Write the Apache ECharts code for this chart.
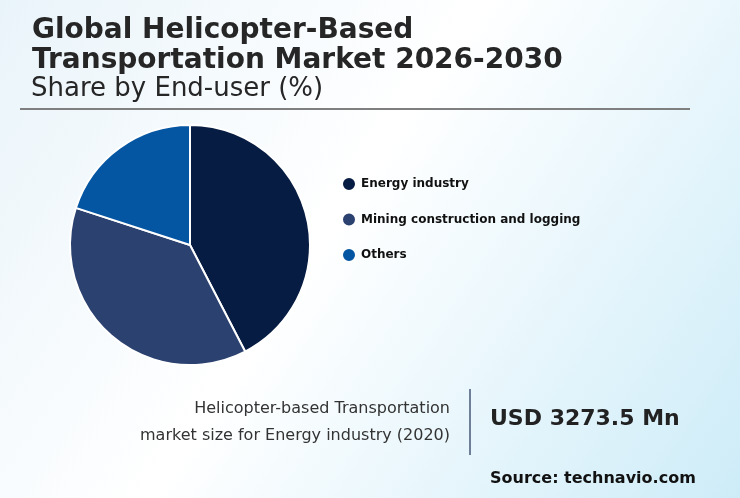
<!DOCTYPE html>
<html>
<head>
<meta charset="utf-8">
<script src="https://cdn.jsdelivr.net/npm/echarts@6/dist/echarts.min.js"></script>
<style>
  html, body { margin: 0; padding: 0; }
  #chart { width: 740px; height: 498px; }
</style>
</head>
<body>
<div id="chart"></div>
<script>
// data
const categories = ['Energy industry', 'Mining construction and logging', 'Others'];
const shares = [42.4, 37.6, 20.0];
const colors = ['#061c42', '#2b4170', '#0455a2'];

const titleLines = ['Global Helicopter-Based', 'Transportation Market 2026-2030'];
const subTitle = 'Share by End-user (%)';
const noteLines = ['Helicopter-based Transportation', 'market size for Energy industry (2020)'];
const marketSize = 'USD 3273.5 Mn';
const source = 'Source: technavio.com';

const chart = echarts.init(document.getElementById('chart'));

const font = 'DejaVu Sans';

const option = {
  backgroundColor: {
    type: 'linear', x: 0, y: 0, x2: 1, y2: 1,
    colorStops: [
      { offset: 0, color: '#e9f4fa' },
      { offset: 0.45, color: '#ffffff' },
      { offset: 1, color: '#cdecf8' }
    ]
  },
  color: colors,
  animation: false,
  legend: {
    orient: 'vertical',
    left: 336,
    top: 171,
    itemGap: 19.5,
    icon: 'circle',
    itemWidth: 14,
    itemHeight: 14,
    textStyle: { fontFamily: font, fontWeight: 'bold', fontSize: 12, color: '#111' },
    data: categories
  },
  series: [{
    type: 'pie',
    center: [190, 245],
    radius: [0, 120],
    startAngle: 90,
    clockwise: true,
    label: { show: false },
    labelLine: { show: false },
    itemStyle: { borderColor: '#ffffff', borderWidth: 2 },
    emphasis: { disabled: true },
    data: categories.map((name, i) => ({ name: name, value: shares[i] }))
  }],
  graphic: [
    { type: 'text', left: 32, top: 17, style: { text: titleLines[0], font: 'bold 28px ' + font, fill: '#262626' } },
    { type: 'text', left: 32, top: 47, style: { text: titleLines[1], font: 'bold 28px ' + font, fill: '#262626' } },
    { type: 'text', left: 31, top: 76, style: { text: subTitle, font: '26px ' + font, fill: '#262626' } },
    { type: 'line', shape: { x1: 20, y1: 109, x2: 690, y2: 109 }, style: { stroke: '#7f7f7f', lineWidth: 2 } },
    { type: 'text', right: 290, top: 401, style: { text: noteLines[0], font: '16px ' + font, fill: '#333333', align: 'right' } },
    { type: 'text', right: 290, top: 428, style: { text: noteLines[1], font: '16px ' + font, fill: '#333333', align: 'right' } },
    { type: 'line', shape: { x1: 470, y1: 389, x2: 470, y2: 455 }, style: { stroke: '#6f7f98', lineWidth: 2 } },
    { type: 'text', left: 490, top: 408, style: { text: marketSize, font: 'bold 22px ' + font, fill: '#222222' } },
    { type: 'text', left: 490, top: 471, style: { text: source, font: 'bold 16px ' + font, fill: '#111111' } }
  ]
};

chart.setOption(option);
</script>
</body>
</html>
